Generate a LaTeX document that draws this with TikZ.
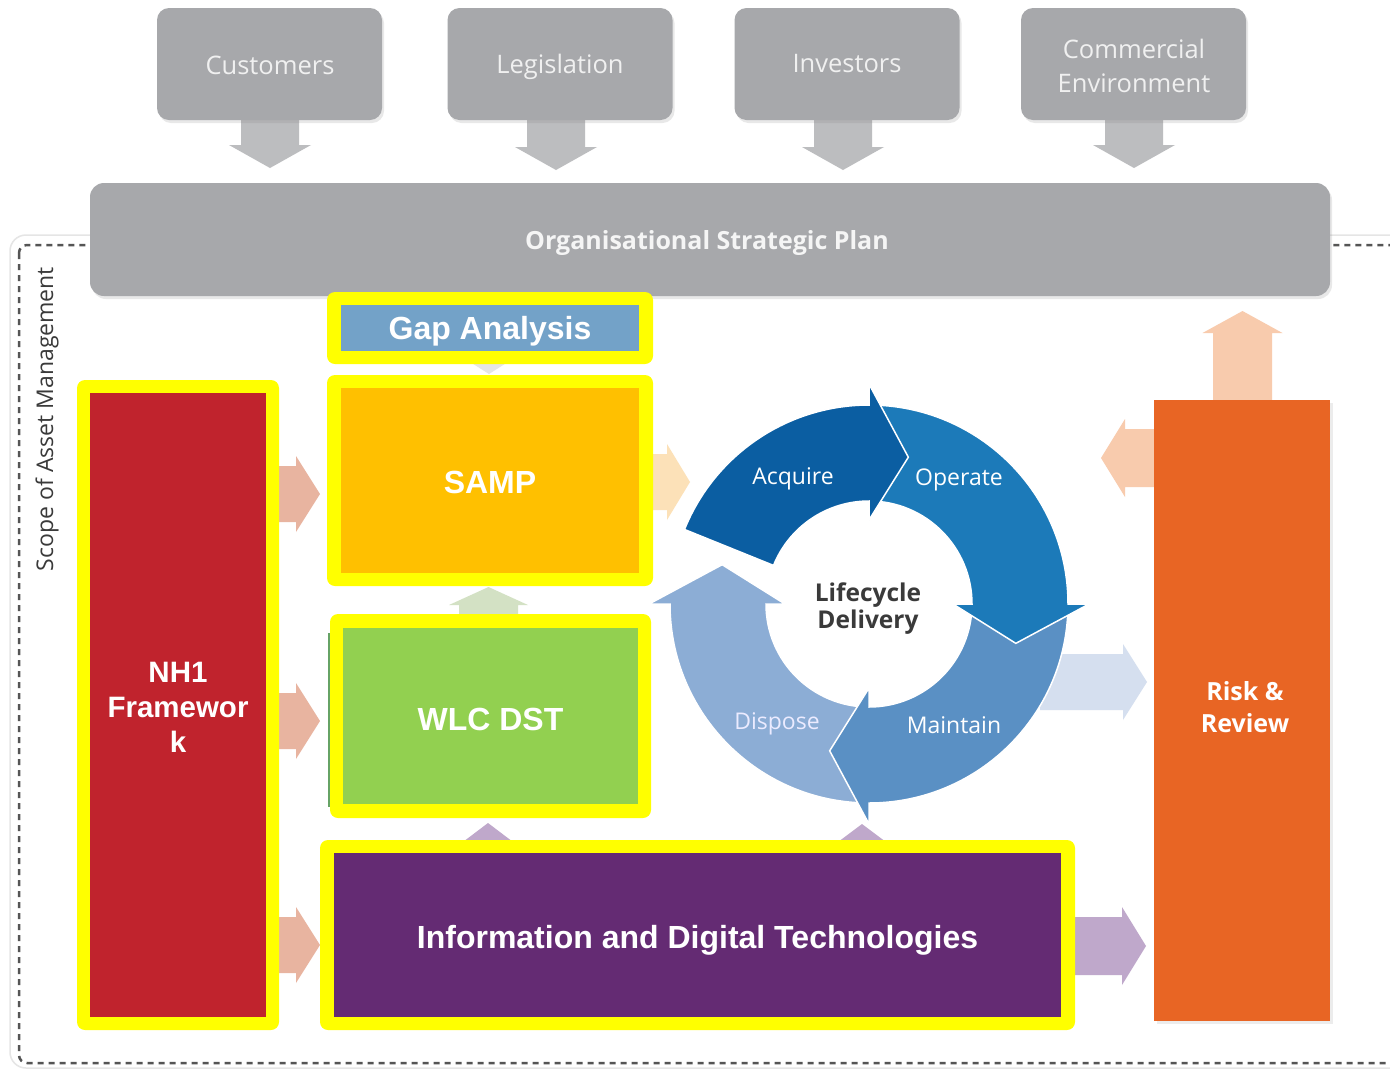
\documentclass[tikz,border=0pt]{standalone}
\usepackage{fontspec}
\setmainfont{Open Sans}
\newfontfamily\arialf{Liberation Sans}
\usetikzlibrary{calc,shadows}
\definecolor{gboxc}{HTML}{A7A8AB}
\definecolor{garrowc}{HTML}{BCBDBF}
\definecolor{yfc}{HTML}{FFFF00}
\definecolor{gapblue}{HTML}{73A2C8}
\definecolor{sampc}{HTML}{FFC000}
\definecolor{wlcc}{HTML}{92D050}
\definecolor{idtc}{HTML}{642B73}
\definecolor{nhred}{HTML}{C0232D}
\definecolor{riskc}{HTML}{E86524}
\definecolor{salmonc}{HTML}{E8B4A0}
\definecolor{peachA}{HTML}{FCE1B8}
\definecolor{peachB}{HTML}{F8CBAD}
\definecolor{lbluec}{HTML}{D5DFEF}
\definecolor{lavc}{HTML}{BFA8CB}
\definecolor{lgreenc}{HTML}{D3E1C4}
\definecolor{acqc}{HTML}{0B5EA2}
\definecolor{opec}{HTML}{1C7AB9}
\definecolor{maic}{HTML}{5A90C4}
\definecolor{disc}{HTML}{8CADD5}
\definecolor{dashc}{HTML}{555555}
\definecolor{darktext}{HTML}{3A3A3A}
% horizontal block arrow: tail x, head base x, tip x, centre y, shaft half, head half, colour
\newcommand{\myharrow}[7]{\fill[#7] (#1,#4-#5) -- (#2,#4-#5) -- (#2,#4-#6) -- (#3,#4) -- (#2,#4+#6) -- (#2,#4+#5) -- (#1,#4+#5) -- cycle;}
% vertical block arrow: tail y, head base y, tip y, centre x, shaft half, head half, colour
\newcommand{\myvarrow}[7]{\fill[#7] (#4-#5,#1) -- (#4-#5,#2) -- (#4-#6,#2) -- (#4,#3) -- (#4+#6,#2) -- (#4+#5,#2) -- (#4+#5,#1) -- cycle;}
% cycle segment: start angle, end angle, colour
\newcommand{\mycycseg}[3]{\fill[#3, draw=white, line width=1.5pt] (#1:199) arc[start angle=#1, end angle=#2, radius=199] -- (#2:220) -- ({#2-15}:152) -- (#2:84) -- (#2:103) arc[start angle=#2, end angle=#1, radius=103] -- cycle;}
\tikzset{
  topbox/.style={fill=gboxc, rounded corners=12pt, minimum width=225pt, minimum height=112pt, inner sep=0pt, drop shadow={opacity=0.18, shadow xshift=2pt, shadow yshift=-3pt}},
  toplab/.style={inner sep=0pt, text=white!94!black, font=\fontsize{25.5}{34}\selectfont, align=center},
  yfr/.style={fill=yfc, rounded corners=8pt, inner sep=0pt, outer sep=0pt},
  inbox/.style={inner sep=0pt, outer sep=0pt},
  inlab/.style={inner sep=0pt, text=white, font=\arialf\bfseries\fontsize{32}{35}\selectfont, align=center},
  cyclab/.style={text=white, font=\fontsize{23}{28}\selectfont, inner sep=0pt},
}
\begin{document}
\begin{tikzpicture}[x=1pt,y=-1pt]
\useasboundingbox (0,0) rectangle (1390,1069);
\clip (0,0) rectangle (1390,1069);
\fill[white] (0,0) rectangle (1390,1069);

% scope of asset management border
\draw[line width=1.5pt, color=black!10, rounded corners=16pt] (10,235) rectangle (1460,1068);
\draw[line width=2.5pt, color=dashc, dash pattern=on 6pt off 5pt, rounded corners=8pt] (19,245) rectangle (1460,1063);
\node[rotate=90, text=darktext, font=\fontsize{23}{28}\selectfont, inner sep=0pt] (scope) at (47,419) {Scope of Asset Management};

% top arrows
\myvarrow{110}{145}{168}{270}{29}{41}{garrowc}
\myvarrow{110}{147}{170}{556}{29}{41}{garrowc}
\myvarrow{110}{147}{170}{843}{29}{41}{garrowc}
\myvarrow{110}{145}{168}{1134}{29}{41}{garrowc}

% top boxes
\node[topbox] (cust) at (269.5,64) {};
\node[topbox] (legis) at (560,64) {};
\node[topbox] (invest) at (847,64) {};
\node[topbox] (comm) at (1133.5,64) {};
\node[toplab] (custlab) at (270,65) {Customers};
\node[toplab] (legislab) at (560,67) {Legislation};
\node[toplab] (investlab) at (847,64) {Investors};
\node[toplab] (commlab) at (1134,66) {Commercial\\Environment};

% organisational strategic plan
\node[fill=gboxc, rounded corners=14pt, minimum width=1240pt, minimum height=113pt, inner sep=0pt, drop shadow={opacity=0.18, shadow xshift=2pt, shadow yshift=-3pt}] (osp) at (710,239.5) {};
\node[inner sep=0pt, text=white!96!black, font=\bfseries\fontsize{25}{30}\selectfont] (osplab) at (707,242.5) {Organisational Strategic Plan};

% block arrows
\myharrow{270}{296}{320}{494}{28}{38}{salmonc}
\myharrow{270}{296}{320}{721}{28}{38}{salmonc}
\myharrow{270}{296}{320}{945}{28}{38}{salmonc}
\myharrow{645}{667}{690}{482}{28}{38}{peachA}
\myvarrow{410}{333}{311}{1242.5}{29.5}{40}{peachB}
\myharrow{1160}{1125}{1101}{458}{29}{39}{peachB}
\myharrow{1040}{1123}{1147}{682}{28}{38}{lbluec}
\myharrow{1068}{1122}{1146}{946}{29}{39}{lavc}
\myvarrow{620}{605}{587}{488.5}{29.5}{39.5}{lgreenc}
\fill[black!10] (467,360) -- (511,360) -- (489,374) -- cycle;
\fill[lavc] (455,848) -- (521,848) -- (488,823) -- cycle;
\fill[lavc] (830,848) -- (894,848) -- (862,824) -- cycle;

% risk & review
\node[fill=riskc, minimum width=176pt, minimum height=621pt, inner sep=0pt, drop shadow={opacity=0.15, shadow xshift=3pt, shadow yshift=-3pt}] (risk) at (1242,710.5) {};
\node[text=white, font=\bfseries\fontsize{25}{32}\selectfont, align=center, inner sep=0pt] (risklab) at (1245,707) {Risk \&\\Review};

% NH1 framework
\node[yfr, minimum width=202pt, minimum height=650pt] (nhf) at (178,705) {};
\node[inbox, fill=nhred, minimum width=176pt, minimum height=624pt] (nh) at (178,705) {};
\node[inlab, font=\arialf\bfseries\fontsize{29.5}{35}\selectfont] (nhlab) at (178,707) {NH1\\Framewor\\k};

% gap analysis
\node[yfr, minimum width=326pt, minimum height=72pt] (gapf) at (490,328) {};
\node[inbox, fill=gapblue, minimum width=298pt, minimum height=46pt] (gap) at (490,328) {};
\node[inlab] (gaplab) at (490,331) {Gap Analysis};

% SAMP
\node[yfr, minimum width=326pt, minimum height=211pt] (sampf) at (490,480.5) {};
\node[inbox, fill=sampc, minimum width=298pt, minimum height=185pt] (samp) at (490,480.5) {};
\node[inlab] (samplab) at (490,482.5) {SAMP};

% WLC DST
\fill[green!40!black!60] (328,633) rectangle (331,807);
\node[yfr, minimum width=321pt, minimum height=204pt] (wlcf) at (490.5,716) {};
\node[inbox, fill=wlcc, minimum width=295pt, minimum height=176pt] (wlc) at (490.5,716) {};
\node[inlab] (wlclab) at (490.5,719) {WLC DST};

% information and digital technologies
\node[yfr, minimum width=755pt, minimum height=190pt] (idtf) at (697.5,935) {};
\node[inbox, fill=idtc, minimum width=727pt, minimum height=164pt] (idt) at (697.5,935) {};
\node[inlab] (idtlab) at (697.5,940) {Information and Digital Technologies};

% lifecycle
\begin{scope}[shift={(869,604)}, yscale=-1]
\mycycseg{-90}{-180}{disc}
\mycycseg{0}{-90}{maic}
\mycycseg{90}{0}{opec}
\mycycseg{158}{90}{acqc}
\end{scope}
\node[text=darktext, font=\bfseries\fontsize{24.5}{27}\selectfont, align=center, inner sep=0pt] (life) at (868,609) {Lifecycle\\Delivery};
\node[cyclab] (acq) at (793,479) {Acquire};
\node[cyclab] (ope) at (959,480) {Operate};
\node[cyclab, text=white!92!blue] (dis) at (777,724) {Dispose};
\node[cyclab] (mai) at (954,725) {Maintain};
\end{tikzpicture}
\end{document}
